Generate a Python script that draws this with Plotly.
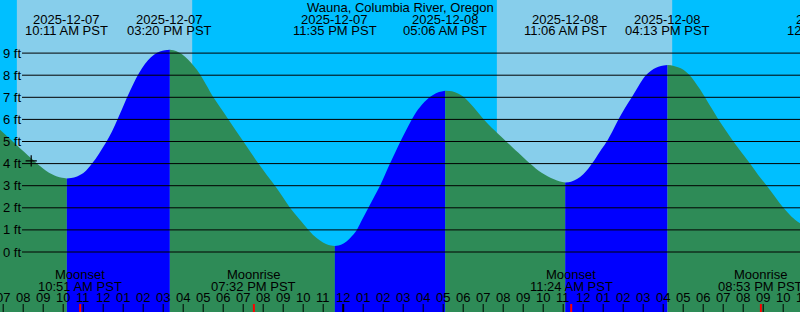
import plotly.graph_objects as go
from datetime import datetime

# ---------------- data ----------------
station = "Wauna, Columbia River, Oregon"

# tide height samples (hours after 2025-12-07 00:00 PST, feet)
tide_hours = [
    6.84, 7.24, 7.64, 8.04, 8.44, 8.84, 9.14, 9.44, 9.69, 9.94, 10.183,
    10.54, 10.84, 11.14, 11.44, 11.79, 12.14, 12.44, 12.74, 13.04, 13.34, 13.64, 13.94,
    14.24, 14.54, 14.84, 15.09, 15.333,
    15.64, 15.94, 16.24, 16.54, 16.84, 17.14, 17.51, 17.88, 18.26, 18.63, 19.01, 19.38,
    19.76, 20.17, 20.59, 20.97, 21.34, 21.79, 22.26, 22.54, 22.84, 23.14, 23.39, 23.583,
    23.89, 24.18, 24.44, 24.68, 24.97, 25.26, 25.55, 25.84, 26.09, 26.34, 26.60, 26.86,
    27.14, 27.43, 27.74, 28.18, 28.49, 28.79, 29.1,
    29.44, 29.74, 30.01, 30.26, 30.51, 30.76, 31.01, 31.29, 31.59, 31.89, 32.18, 32.47,
    32.76, 33.05, 33.34, 33.64, 33.94, 34.24, 34.54, 34.84, 35.1,
    35.39, 35.69, 35.99, 36.24, 36.44, 36.64, 36.84, 37.02, 37.18, 37.47, 37.76, 38.09,
    38.43, 38.76, 39.09, 39.39, 39.64, 39.89, 40.217,
    40.49, 40.74, 41.01, 41.29, 41.57, 41.84, 42.09, 42.42, 42.76, 43.13, 43.51, 43.92,
    44.34, 44.74, 45.18, 45.59, 46.01, 46.42, 46.84]
tide_feet = [
    5.53, 5.20, 4.87, 4.54, 4.21, 3.89, 3.68, 3.52, 3.42, 3.36, 3.33,
    3.37, 3.48, 3.68, 4.00, 4.45, 4.95, 5.45, 6.05, 6.68, 7.28, 7.85, 8.32,
    8.68, 8.93, 9.07, 9.13, 9.15,
    9.10, 8.95, 8.71, 8.40, 8.04, 7.58, 7.00, 6.50, 6.00, 5.50, 5.00, 4.50,
    4.00, 3.50, 3.00, 2.50, 2.00, 1.50, 1.00, 0.74, 0.52, 0.36, 0.29, 0.27,
    0.33, 0.49, 0.72, 1.00, 1.50, 2.00, 2.50, 3.00, 3.50, 4.00, 4.50, 5.00,
    5.50, 6.00, 6.45, 6.89, 7.10, 7.24, 7.30,
    7.27, 7.17, 7.02, 6.81, 6.56, 6.29, 6.02, 5.75, 5.49, 5.23, 4.98, 4.73,
    4.49, 4.24, 4.00, 3.77, 3.58, 3.42, 3.29, 3.19, 3.14,
    3.18, 3.30, 3.51, 3.76, 4.00, 4.27, 4.55, 4.78, 5.00, 5.48, 6.00, 6.52,
    7.00, 7.50, 7.95, 8.20, 8.34, 8.42, 8.46,
    8.43, 8.36, 8.25, 8.03, 7.72, 7.36, 7.00, 6.50, 6.00, 5.50, 5.00, 4.50,
    4.00, 3.50, 3.00, 2.50, 2.00, 1.60, 1.30]

event_dates = ["2025-12-07", "2025-12-07", "2025-12-07", "2025-12-08", "2025-12-08", "2025-12-08", "2025-12-09"]
event_times = ["10:11 AM PST", "03:20 PM PST", "11:35 PM PST", "05:06 AM PST", "11:06 AM PST", "04:13 PM PST", "12:18 AM PST"]

moon_names = ["Moonset", "Moonrise", "Moonset", "Moonrise"]
moon_dates = ["2025-12-07", "2025-12-07", "2025-12-08", "2025-12-08"]
moon_times = ["10:51 AM PST", "07:32 PM PST", "11:24 AM PST", "08:53 PM PST"]

sun_dates = ["2025-12-07", "2025-12-08"]
sunrise_times = ["07:41 AM PST", "07:41 AM PST"]
sunset_times = ["04:27 PM PST", "04:27 PM PST"]

now_hour = 8.4
now_feet = 4.12

feet_levels = [0, 1, 2, 3, 4, 5, 6, 7, 8, 9]
hour_ticks = list(range(7, 48))

window_start = 6.84
window_hours = 40.0
y_bottom, y_top = -2.715, 11.403

# ---------------- styles ----------------
NIGHT = "#00BFFF"
DAY = "#87CEEB"
FALL = "#2E8B57"
RISE = "#0000FF"
FONT = dict(family="Liberation Sans, Arial, sans-serif", size=13, color="#000000")
W, H = 800, 312

base = datetime(2025, 12, 7)


def hrs(date, tm):
    dt = datetime.strptime(f"{date} {tm.replace(' PST', '')}", "%Y-%m-%d %I:%M %p")
    return (dt - base).total_seconds() / 3600.0


def frac(t):
    return (t - window_start) / window_hours


fig = go.Figure()

# day background
shapes = []
for d, sr, ss in zip(sun_dates, sunrise_times, sunset_times):
    shapes.append(dict(type="rect", xref="x", yref="paper", x0=hrs(d, sr), x1=hrs(d, ss),
                       y0=0, y1=1, fillcolor=DAY, line=dict(width=0), layer="below"))

# tide fill segments, split at turning points
split = [0]
for i in range(1, len(tide_feet) - 1):
    if (tide_feet[i] - tide_feet[i - 1]) * (tide_feet[i + 1] - tide_feet[i]) < 0:
        split.append(i)
split.append(len(tide_feet) - 1)
for a, b in zip(split[:-1], split[1:]):
    xs = tide_hours[a:b + 1]
    ys = tide_feet[a:b + 1]
    color = RISE if ys[-1] > ys[0] else FALL
    fig.add_trace(go.Scatter(x=xs, y=[y_bottom - 1] * len(xs), mode="lines",
                             line=dict(width=0), hoverinfo="skip", showlegend=False))
    fig.add_trace(go.Scatter(x=xs, y=ys, mode="lines", fill="tonexty", fillcolor=color,
                             line=dict(width=0, shape="spline", color=color),
                             hoverinfo="skip", showlegend=False))

# current position marker
fig.add_trace(go.Scatter(x=[now_hour], y=[now_feet], mode="markers",
                         marker=dict(symbol="cross-thin", size=8, line=dict(width=1.2, color="black")),
                         hoverinfo="skip", showlegend=False))

# grid lines
for f in feet_levels:
    shapes.append(dict(type="line", xref="paper", yref="y", x0=22 / W, x1=1, y0=f, y1=f,
                       line=dict(color="black", width=1), layer="above"))

# hour ticks
for h in hour_ticks:
    shapes.append(dict(type="line", xref="x", yref="paper", x0=h, x1=h, y0=0, y1=8 / H,
                       line=dict(color="black", width=2 if h % 24 == 0 else 1), layer="above"))
# moon ticks
for d, tm in zip(moon_dates, moon_times):
    t = hrs(d, tm)
    shapes.append(dict(type="line", xref="x", yref="paper", x0=t, x1=t, y0=0, y1=8 / H,
                       line=dict(color="red", width=2), layer="above"))

ann = []
# title
ann.append(dict(text=station, xref="paper", yref="paper", x=0.5, y=1 - 7 / H,
                xanchor="center", yanchor="middle", showarrow=False, font=FONT))
# tide events
for d, tm in zip(event_dates, event_times):
    t = hrs(d, tm)
    ann.append(dict(text=d, xref="paper", yref="paper", x=frac(t), y=1 - 19 / H,
                    xanchor="center", yanchor="middle", showarrow=False, font=FONT))
    ann.append(dict(text=tm, xref="paper", yref="paper", x=frac(t), y=1 - 31 / H,
                    xanchor="center", yanchor="middle", showarrow=False, font=FONT))
# moon events
for n, d, tm in zip(moon_names, moon_dates, moon_times):
    t = hrs(d, tm)
    ann.append(dict(text=n, xref="paper", yref="paper", x=frac(t), y=1 - 274 / H,
                    xanchor="center", yanchor="middle", showarrow=False, font=FONT))
    ann.append(dict(text=tm, xref="paper", yref="paper", x=frac(t), y=1 - 286 / H,
                    xanchor="center", yanchor="middle", showarrow=False, font=FONT))
# hour labels
for h in hour_ticks:
    lbl = f"{(h % 12) or 12:02d}"
    ann.append(dict(text=lbl, xref="paper", yref="paper", x=frac(h), y=1 - 297 / H,
                    xanchor="center", yanchor="middle", showarrow=False, font=FONT))
# feet labels
for f in feet_levels:
    ann.append(dict(text=f"{f} ft", xref="paper", yref="y", x=0, y=f, xshift=1,
                    xanchor="left", yanchor="middle", showarrow=False, font=FONT))

fig.update_layout(
    width=W, height=H, margin=dict(l=0, r=0, t=0, b=0),
    paper_bgcolor=NIGHT, plot_bgcolor=NIGHT,
    xaxis=dict(range=[window_start, window_start + window_hours], visible=False, fixedrange=True),
    yaxis=dict(range=[y_bottom, y_top], visible=False, fixedrange=True),
    shapes=shapes, annotations=ann, showlegend=False, hovermode=False,
)

fig.write_html("out.html")
